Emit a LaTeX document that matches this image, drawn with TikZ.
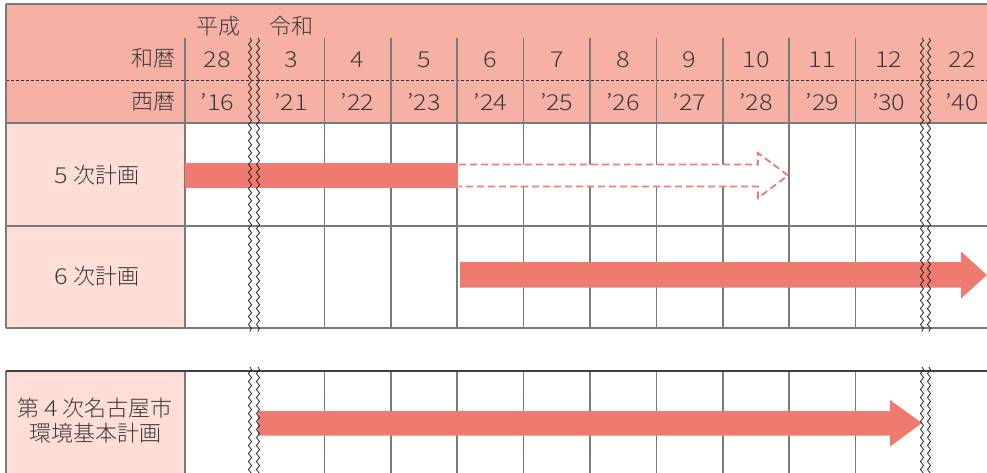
\documentclass[tikz,border=0pt]{standalone}
\usepackage{fontspec}
\IfFontExistsTF{Noto Sans CJK JP Light}{\setmainfont{Noto Sans CJK JP Light}\newfontfamily\dig{Noto Sans CJK JP Light}[FakeStretch=1.15]}{\setmainfont{Noto Sans CJK JP}\newfontfamily\dig{Noto Sans CJK JP}[FakeStretch=1.15]}
\usetikzlibrary{decorations.pathmorphing}
\definecolor{hdr}{HTML}{F6B1A4}
\definecolor{lab}{HTML}{FDDDD5}
\definecolor{barc}{HTML}{EE7A70}
\definecolor{gridc}{HTML}{7A7A7A}
\definecolor{txtc}{HTML}{3A3A3A}
\begin{document}
\begin{tikzpicture}[x=1pt,y=-1pt,
  lbl/.style={font=\fontsize{22}{25}\selectfont, text=txtc, inner sep=0pt},
  num/.style={font=\dig\fontsize{22}{25}\selectfont, text=txtc, inner sep=0pt},
  gridline/.style={draw=gridc, line width=1.5pt},
  darkline/.style={draw=black!75, line width=1.3pt},
  wave/.style={draw=black!85, line width=0.8pt, decorate,
    decoration={snake, amplitude=1.5pt, segment length=8pt}},
  solidbar/.style={fill=barc, draw=none},
  dashbar/.style={draw=barc, line width=1.8pt, dash pattern=on 7pt off 4pt, fill=white, line join=miter}
]
\clip (0,0) rectangle (987,472);
% backgrounds
\fill[hdr] (6,4) rectangle (1000,123);
\fill[lab] (6,123) rectangle (185,328);
\fill[lab] (6,371) rectangle (185,480);
% header lines
\draw[gridline] (6,4) -- (1000,4);
\draw[black!80, line width=0.7pt, dash pattern=on 3pt off 2pt] (6,80) -- (1000,80);
% left border
\draw[gridline] (6,4) -- (6,328);
\draw[gridline] (6,371) -- (6,480);
% vertical grid lines
\foreach \x in {185,324.4,390.8,457.2,523.6,590,656.4,722.8,789.2,855.6} {
  \draw[gridline] (\x,38) -- (\x,328);
  \draw[gridline] (\x,371) -- (\x,480);
}
% horizontal lines
\draw[gridline] (6,123) -- (1000,123);
\draw[gridline] (6,226) -- (1000,226);
\draw[gridline] (6,328) -- (1000,328);
\draw[darkline] (6,371) -- (1000,371);
% header texts
\node[lbl] (heisei) at (218,26) {平成};
\node[lbl] (reiwa) at (291.5,26) {令和};
\node[lbl, anchor=east] (wareki) at (176,58) {和暦};
\node[lbl, anchor=east] (seireki) at (176,102) {西暦};
\node[num] (w28) at (217.5,59.5) {28};
\node[num] (s16) at (217.5,102) {’16};
\foreach \i/\w/\s in {0/3/21,1/4/22,2/5/23,3/6/24,4/7/25,5/8/26,6/9/27,7/10/28,8/11/29,9/12/30} {
  \node[num] (w\w) at ({258+66.4*\i+33.2},59.5) {\w};
  \node[num] (s\s) at ({258+66.4*\i+33.2},102) {’\s};
}
\node[num] (w22) at (962,59.5) {22};
\node[num] (s40) at (962,102) {’40};
% row labels
\node[lbl] (plan5) at (97,175) {{\dig 5} 次計画};
\node[lbl] (plan6) at (97,276) {{\dig 6} 次計画};
\node[lbl, align=center] (env4) at (95,421) {第 {\dig 4} 次名古屋市\\環境基本計画};
% arrows
\fill[solidbar] (185,163) rectangle (458,188);
\draw[dashbar] (459,164.5) -- (758,164.5) -- (758,153) -- (788,175.5) -- (758,198) -- (758,186.5) -- (459,186.5);
\fill[solidbar] (460,262) -- (961,262) -- (961,251.5) -- (987,275) -- (961,298.5) -- (961,287.5) -- (460,287.5) -- cycle;
\fill[solidbar] (258,411) -- (890,411) -- (890,400) -- (922,423) -- (890,446.5) -- (890,435.5) -- (258,435.5) -- cycle;
% break marks
\foreach \x in {250,258,922,929} {
  \draw[wave] (\x,38) -- (\x,332);
  \draw[wave] (\x,367) -- (\x,480);
}
\end{tikzpicture}
\end{document}
